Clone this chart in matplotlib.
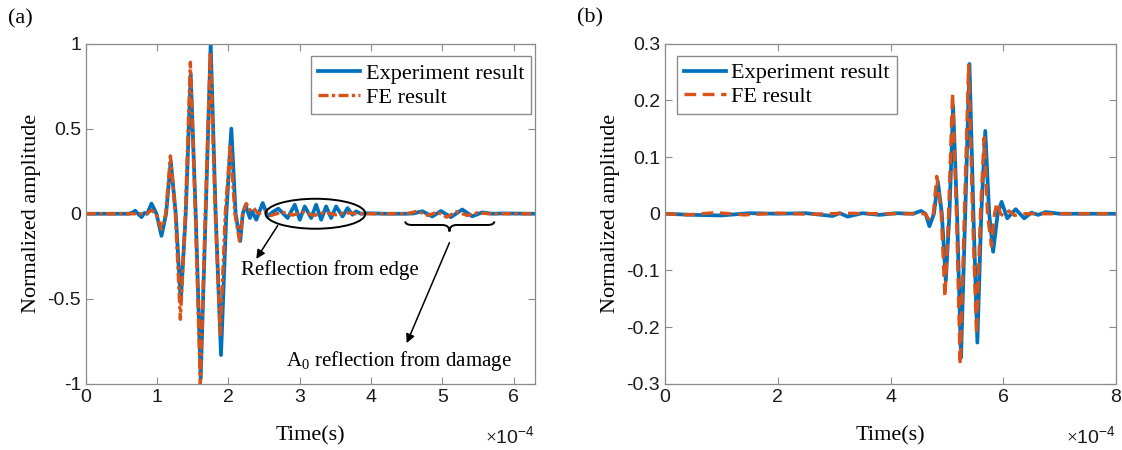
import matplotlib
matplotlib.use("Agg")
import matplotlib.pyplot as plt
from matplotlib.patches import Ellipse, PathPatch
from matplotlib.path import Path
from matplotlib.ticker import FuncFormatter
import numpy as np

# ============================================================
# DADOS  (tempo em unidades de 1e-4 s)
# ============================================================

# painel (a) - experimento
ta_exp = [0.00, 0.60, 0.66, 0.69, 0.73, 0.78, 0.82, 0.86, 0.92, 0.99,
          1.06, 1.125, 1.19, 1.26, 1.33, 1.40, 1.47, 1.54, 1.61, 1.68,
          1.75, 1.82, 1.895, 1.97, 2.04, 2.10, 2.165, 2.20, 2.24, 2.30,
          2.33, 2.39, 2.48, 2.55, 2.62, 2.70, 2.77, 2.83, 2.93, 3.00,
          3.07, 3.16, 3.23, 3.30, 3.37, 3.44, 3.51, 3.60, 3.67, 3.74,
          3.79, 3.86, 3.95, 4.20, 4.50, 4.60, 4.72, 4.86, 4.98, 5.12,
          5.28, 5.42, 5.56, 5.70, 5.85, 6.29]
ya_exp = [0.0, 0.0, 0.008, 0.018, 0.0, -0.02, 0.005, 0.0, 0.06, 0.0,
          -0.13, 0.0, 0.31, 0.0, -0.52, 0.0, 0.82, 0.0, -0.97, 0.0,
          1.0, 0.0, -0.83, 0.0, 0.50, 0.0, -0.16, 0.0, 0.05, -0.025,
          0.015, -0.035, 0.063, -0.016, 0.01, 0.03, 0.0, -0.025, 0.053, -0.035,
          0.043, -0.025, 0.053, -0.035, 0.043, -0.025, 0.043, -0.016, 0.033, -0.006,
          0.014, 0.0, 0.003, 0.0, 0.0, 0.002, 0.015, -0.016, 0.016, -0.02,
          0.025, -0.015, 0.008, 0.0, 0.002, 0.0]

# painel (a) - elementos finitos
ta_fe = [0.00, 0.85, 0.92, 0.99, 1.055, 1.12, 1.185, 1.255, 1.325, 1.395,
         1.465, 1.535, 1.605, 1.675, 1.745, 1.815, 1.885, 1.955, 2.025, 2.09,
         2.155, 2.20, 2.25, 2.30, 2.35, 2.42, 2.50, 2.60, 2.75, 2.90,
         3.05, 3.20, 3.35, 3.50, 3.65, 3.80, 4.50, 4.65, 4.80, 4.93,
         5.06, 5.20, 5.35, 5.50, 5.65, 6.29]
ya_fe = [0.0, 0.0, 0.02, 0.0, -0.09, 0.0, 0.34, 0.0, -0.62, 0.0,
         0.89, 0.0, -1.0, 0.0, 0.95, 0.0, -0.71, 0.0, 0.41, 0.0,
         -0.16, 0.0, 0.06, 0.02, 0.035, 0.0, 0.015, -0.01, 0.01, -0.008,
         0.01, -0.01, 0.008, -0.006, 0.006, 0.0, 0.0, 0.015, -0.01, 0.01,
         -0.02, 0.012, -0.01, 0.006, 0.0, 0.0]

# painel (b) - experimento
tb_exp = [0.00, 0.50, 1.00, 1.50, 2.00, 2.50, 2.97, 3.10, 3.24, 3.50,
          3.80, 4.10, 4.40, 4.54, 4.62, 4.69, 4.77, 4.84, 4.91, 4.98,
          5.045, 5.11, 5.18, 5.25, 5.325, 5.40, 5.47, 5.54, 5.61, 5.68,
          5.75, 5.82, 5.90, 5.97, 6.07, 6.22, 6.37, 6.50, 6.62, 6.75,
          7.00, 8.00]
yb_exp = [0.0, -0.002, -0.003, 0.001, 0.0, 0.001, -0.004, 0.001, -0.005, 0.001,
          -0.002, 0.001, 0.0, 0.005, 0.0, -0.022, 0.0, 0.057, 0.0, -0.118,
          0.0, 0.19, 0.0, -0.254, 0.0, 0.264, 0.0, -0.227, 0.0, 0.146,
          0.0, -0.067, 0.0, 0.021, -0.008, 0.008, -0.008, 0.002, -0.002, 0.003,
          0.0, 0.0]

# painel (b) - elementos finitos
tb_fe = [0.00, 0.40, 0.90, 1.40, 2.00, 2.60, 3.20, 3.80, 4.50, 4.62,
         4.69, 4.76, 4.82, 4.90, 4.965, 5.03, 5.10, 5.17, 5.235, 5.31,
         5.385, 5.455, 5.525, 5.595, 5.66, 5.72, 5.79, 5.845, 5.89, 5.95,
         6.02, 6.10, 6.20, 6.30, 8.00]
yb_fe = [0.0, -0.002, 0.002, -0.002, 0.001, -0.001, 0.001, 0.0, 0.0, 0.0,
         -0.012, 0.0, 0.066, 0.0, -0.147, 0.0, 0.213, 0.0, -0.266, 0.0,
         0.262, 0.0, -0.212, 0.0, 0.134, 0.0, -0.057, 0.0, 0.02, 0.0,
         -0.005, 0.005, -0.003, 0.0, 0.0]

labels = ["Experiment result", "FE result"]

# ============================================================
# ESTILO
# ============================================================

plt.rcParams["axes.unicode_minus"] = False
plt.rcParams["mathtext.fontset"] = "custom"
plt.rcParams["mathtext.rm"] = "Liberation Serif"
plt.rcParams["mathtext.sf"] = "Liberation Sans"

azul = "#0072BD"
laranja = "#D95319"
cinza = "#8a8a8a"
serif = "Liberation Serif"
sans = "Liberation Sans"

fig = plt.figure(figsize=(11.22, 4.5), dpi=100)
ax_a = fig.add_axes([0.0766, 0.1467, 0.4002, 0.7566])
ax_b = fig.add_axes([0.5927, 0.1467, 0.4020, 0.7566])

fmt_x = FuncFormatter(lambda v, p: f"{v * 1e4:g}")
fmt_y = FuncFormatter(lambda v, p: f"{v:g}")


def estilo(ax, xmax, xticks, ylim, yticks):
    ax.set_xlim(0, xmax)
    ax.set_ylim(*ylim)
    ax.set_xticks(xticks)
    ax.set_yticks(yticks)
    ax.xaxis.set_major_formatter(fmt_x)
    ax.yaxis.set_major_formatter(fmt_y)
    ax.tick_params(direction="in", top=True, right=True, length=5,
                   width=0.8, color=cinza, labelsize=14, labelcolor="#1a1a1a")
    for lab in ax.get_xticklabels() + ax.get_yticklabels():
        lab.set_fontfamily(sans)
    for sp in ax.spines.values():
        sp.set_color(cinza)
        sp.set_linewidth(0.9)
    ax.set_xlabel("Time(s)", fontfamily=serif, fontsize=16, labelpad=15)
    ax.set_ylabel("Normalized amplitude", fontfamily=serif, fontsize=16,
                  labelpad=5)
    ax.text(1.0, -0.156, r"$\times\mathsf{10}^{\mathsf{-4}}$",
            transform=ax.transAxes, ha="right", va="center", fontsize=14,
            color="#1a1a1a")


def legenda(ax, loc, anchor):
    ax.legend(loc=loc, bbox_to_anchor=anchor, borderaxespad=0,
              fancybox=False, edgecolor=cinza, framealpha=1,
              prop={"family": serif, "size": 16}, handlelength=1.9,
              handletextpad=0.25, borderpad=0.3, labelspacing=0.15)


# ============================================================
# PAINEL (a)
# ============================================================

e = 1e-4
ax_a.plot(np.array(ta_exp) * e, ya_exp, color=azul, lw=2.7,
          solid_joinstyle="round", label=labels[0])
ax_a.plot(np.array(ta_fe) * e, ya_fe, color=laranja, lw=2.4,
          linestyle=(0, (3, 1, 1, 1)), dash_joinstyle="round",
          label=labels[1])
estilo(ax_a, 6.3e-4, np.arange(0, 7) * e, (-1, 1), [-1, -0.5, 0, 0.5, 1])
legenda(ax_a, "upper right", (0.991, 0.962))

ax_a.add_patch(Ellipse((3.22e-4, 0.0), 1.40e-4, 0.176, fill=False,
                       edgecolor="k", lw=1.4, zorder=5))

# chave
x0, x1, xm = 4.48e-4, 5.73e-4, 5.10e-4
ytop, ybar, ytip = -0.045, -0.066, -0.104
dx = 0.1e-4
verts = [(x0, ytop), (x0, ybar), (x0 + dx, ybar),
         (xm - dx, ybar), (xm, ybar), (xm, ytip),
         (xm, ybar), (xm + dx, ybar),
         (x1 - dx, ybar), (x1, ybar), (x1, ytop)]
codes = [Path.MOVETO, Path.CURVE3, Path.CURVE3,
         Path.LINETO, Path.CURVE3, Path.CURVE3,
         Path.CURVE3, Path.CURVE3,
         Path.LINETO, Path.CURVE3, Path.CURVE3]
ax_a.add_patch(PathPatch(Path(verts, codes), fill=False, edgecolor="k",
                         lw=1.4, zorder=5))

seta = dict(arrowstyle="-|>", color="k", lw=1.1, mutation_scale=13,
            shrinkA=0, shrinkB=0)
ax_a.annotate("", xy=(2.39e-4, -0.265), xytext=(2.69e-4, -0.07),
              arrowprops=seta)
ax_a.annotate("", xy=(4.50e-4, -0.76), xytext=(5.10e-4, -0.17),
              arrowprops=seta)
ax_a.text(2.18e-4, -0.33, "Reflection from edge", fontfamily=serif,
          fontsize=15, ha="left", va="center")
ax_a.text(2.80e-4, -0.865, r"A$_\mathrm{0}$ reflection from damage",
          fontfamily=serif, fontsize=15, ha="left", va="center")

# ============================================================
# PAINEL (b)
# ============================================================

ax_b.plot(np.array(tb_exp) * e, yb_exp, color=azul, lw=2.7,
          solid_joinstyle="round", label=labels[0])
ax_b.plot(np.array(tb_fe) * e, yb_fe, color=laranja, lw=2.4,
          linestyle=(0, (3.5, 2)), dash_joinstyle="round", label=labels[1])
estilo(ax_b, 8e-4, np.arange(0, 9, 2) * e, (-0.3, 0.3),
       [-0.3, -0.2, -0.1, 0, 0.1, 0.2, 0.3])
legenda(ax_b, "upper left", (0.0266, 0.963))

fig.text(0.007, 0.958, "(a)", fontfamily=serif, fontsize=16, ha="left",
         va="center")
fig.text(0.514, 0.96, "(b)", fontfamily=serif, fontsize=16, ha="left",
         va="center")

# ============================================================
# EXPORTAÇÃO
# ============================================================

fig.savefig("out.png", dpi=100)
